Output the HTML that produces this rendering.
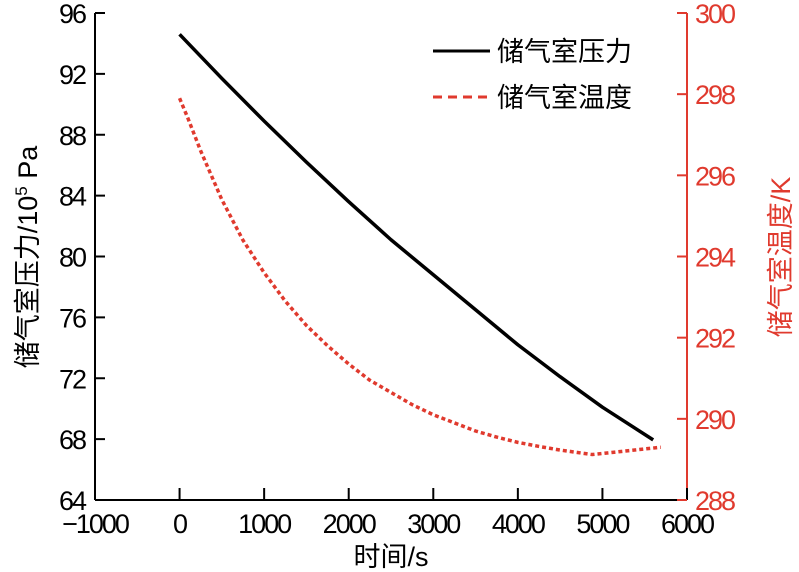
<!DOCTYPE html>
<html><head><meta charset="utf-8">
<style>
html,body{margin:0;padding:0;background:#fff;}
svg{display:block;font-family:"Liberation Sans","Noto Sans CJK SC",sans-serif;}
</style></head>
<body>
<svg id="chart" width="799" height="572" viewBox="0 0 799 572" xmlns="http://www.w3.org/2000/svg">
<g id="axes"></g>
<g id="series"></g>
<g id="legend">
  <line x1="433" y1="51" x2="490" y2="51" stroke="#000" stroke-width="3"/>
  <text x="497" y="61" font-size="27" fill="#000">储气室压力</text>
  <line x1="433" y1="97" x2="490" y2="97" stroke="#e03a2e" stroke-width="3" stroke-dasharray="9,6"/>
  <text x="497" y="107" font-size="27" fill="#000">储气室温度</text>
</g>
</svg>
<script>
const xTicks = [-1000,0,1000,2000,3000,4000,5000,6000];
const leftTicks = [64,68,72,76,80,84,88,92,96];
const rightTicks = [288,290,292,294,296,298,300];
const pressureTime = [0,500,1000,1500,2000,2500,3000,3500,4000,4500,5000,5600];
const pressureValues = [94.6,91.7,88.9,86.2,83.6,81.1,78.8,76.5,74.2,72.1,70.1,67.95];
const tempTime = [0,100,250,500,750,1000,1250,1500,1750,2000,2250,2500,2750,3000,3250,3500,3750,4000,4250,4500,4880,5690];
const tempValues = [297.9,297.4,296.6,295.4,294.4,293.6,292.9,292.3,291.8,291.35,290.95,290.65,290.35,290.1,289.9,289.7,289.55,289.42,289.32,289.23,289.12,289.3];

const X0=95, X1=687, YT=13, YB=500;
const xs = v => X0 + (v+1000)/7000*(X1-X0);
const yl = v => YB - (v-64)/32*(YB-YT);
const yr = v => YB - (v-288)/12*(YB-YT);
const NS="http://www.w3.org/2000/svg";
const red="#e03a2e";
function mk(tag, attrs, parent){const e=document.createElementNS(NS,tag);for(const k in attrs)e.setAttribute(k,attrs[k]);parent.appendChild(e);return e;}
const axes=document.getElementById('axes'), series=document.getElementById('series');

let e;
e=mk('line',{x1:X0,y1:YT,x2:X0,y2:YB,stroke:'#000','stroke-width':2},axes);


e=mk('line',{x1:X0,y1:YB,x2:X1,y2:YB,stroke:'#000','stroke-width':2},axes);


e=mk('line',{x1:X1,y1:YT,x2:X1,y2:YB,stroke:red,'stroke-width':2},axes);



xTicks.forEach(v=>{
  const x=xs(v);
  mk('line',{x1:x,y1:YB,x2:x,y2:YB-12,stroke:'#000','stroke-width':2},axes);
  const t=mk('text',{x:x,y:533,'font-size':27,'text-anchor':'middle','letter-spacing':'-2'},axes);
  t.textContent=(v<0?'\u2212'+(-v):String(v));
  
  
});
leftTicks.forEach(v=>{
  const y=yl(v);
  mk('line',{x1:X0,y1:y,x2:X0+10,y2:y,stroke:'#000','stroke-width':2},axes);
  const t=mk('text',{x:85,y:y+10,'font-size':27,'text-anchor':'end','letter-spacing':'-2'},axes);
  t.textContent=String(v);
  
  
});
rightTicks.forEach(v=>{
  const y=yr(v);
  mk('line',{x1:X1,y1:y,x2:X1-10,y2:y,stroke:red,'stroke-width':2},axes);
  const t=mk('text',{x:695,y:y+10,'font-size':27,fill:red,'letter-spacing':'-2'},axes);
  t.textContent=String(v);
  
  
});
e=mk('text',{x:391,y:566,'font-size':27,'text-anchor':'middle'},axes);
e.textContent='时间/s';


e=mk('text',{x:0,y:0,'font-size':27,'text-anchor':'middle',transform:'translate(37,257) rotate(-90)'},axes);
e.innerHTML='储气室压力/10<tspan dy="-10" font-size="17">5</tspan><tspan dy="10"> Pa</tspan>';


e=mk('text',{x:0,y:0,'font-size':27,'text-anchor':'middle',fill:red,transform:'translate(790,257) rotate(-90)'},axes);
e.textContent='储气室温度/K';



const pp=pressureTime.map((t,i)=>xs(t)+','+yl(pressureValues[i])).join(' ');
e=mk('polyline',{points:pp,fill:'none',stroke:'#000','stroke-width':3.5,'stroke-linejoin':'round'},series);


const tp=tempTime.map((t,i)=>xs(t)+','+yr(tempValues[i])).join(' ');
e=mk('polyline',{points:tp,fill:'none',stroke:red,'stroke-width':3.5,'stroke-dasharray':'4,3'},series);


</script>
</body></html>
